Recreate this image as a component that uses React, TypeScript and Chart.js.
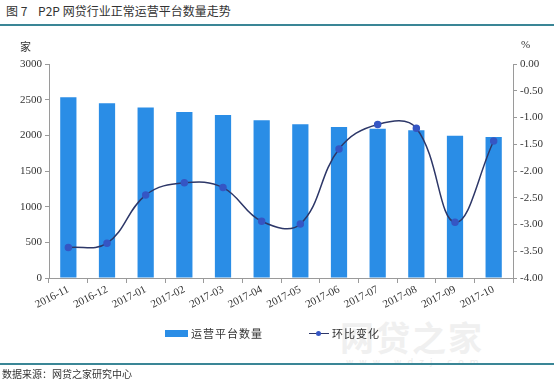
import React, { useEffect, useRef } from "react";
import { Chart, registerables } from "chart.js";

Chart.register(...registerables);

const categories = [
  "2016-11", "2016-12", "2017-01", "2017-02", "2017-03", "2017-04",
  "2017-05", "2017-06", "2017-07", "2017-08", "2017-09", "2017-10",
];
const platformCount = [2535, 2450, 2390, 2327, 2285, 2210, 2155, 2117, 2093, 2070, 1995, 1975];
const momChange = [-3.43, -3.35, -2.45, -2.22, -2.31, -2.94, -2.99, -1.59, -1.13, -1.2, -2.96, -1.44];
const leftRange = [0, 3000, 500];
const rightRange = [-4, 0, 0.5];
const seriesNames = ["运营平台数量", "环比变化"];
const titleText = "图 7    P2P 网贷行业正常运营平台数量走势";
const sourceText = "数据来源：网贷之家研究中心";

const BAR = "#2a8de6";
const LINE = "#2d3768";
const POINT = "#3556c4";
const AXIS = "#9a9a9a";
const TEAL = "#3a8696";
const SERIF = "'Liberation Serif', 'Times New Roman', serif";
const CJK = "'Noto Sans CJK SC', 'Noto Sans', sans-serif";

export default function App() {
  const ref = useRef<HTMLCanvasElement | null>(null);

  useEffect(() => {
    const ctx = ref.current;
    if (!ctx) return;
    const chart = new Chart(ctx, {
      type: "bar",
      data: {
        labels: categories,
        datasets: [
          {
            type: "line",
            label: seriesNames[1],
            data: momChange,
            yAxisID: "y1",
            borderColor: LINE,
            borderWidth: 1.5,
            backgroundColor: POINT,
            pointBackgroundColor: POINT,
            pointBorderColor: POINT,
            pointRadius: 3,
            tension: 0.4,
            order: 0,
          },
          {
            type: "bar",
            label: seriesNames[0],
            data: platformCount,
            yAxisID: "y",
            backgroundColor: BAR,
            categoryPercentage: 1,
            barPercentage: 0.42,
            order: 1,
          },
        ],
      },
      options: {
        responsive: false,
        animation: false,
        layout: { padding: { top: 64, left: 0, right: 0, bottom: 62 } },
        plugins: { legend: { display: false }, tooltip: { enabled: false } },
        scales: {
          x: {
            offset: true,
            grid: {
              offset: true,
              drawOnChartArea: false,
              color: AXIS,
              tickLength: 5,
            },
            border: { color: AXIS },
            ticks: {
              minRotation: 27,
              maxRotation: 27,
              color: "#333",
              padding: 0,
              font: { family: SERIF, size: 11 },
            },
            afterFit: (s: any) => {
              s.height = 42;
            },
          },
          y: {
            position: "left",
            min: leftRange[0],
            max: leftRange[1],
            ticks: {
              stepSize: leftRange[2],
              color: "#333",
              padding: 3,
              font: { family: SERIF, size: 11 },
              callback: (v: any) => String(v),
            },
            grid: { drawOnChartArea: false, color: AXIS, tickLength: 4 },
            border: { color: AXIS },
            afterFit: (s: any) => {
              s.width = 49;
            },
          },
          y1: {
            position: "right",
            min: rightRange[0],
            max: rightRange[1],
            ticks: {
              stepSize: rightRange[2],
              color: "#333",
              padding: 3,
              font: { family: SERIF, size: 11 },
              callback: (v: any) => Number(v).toFixed(2),
            },
            grid: { drawOnChartArea: false, color: AXIS, tickLength: 4 },
            border: { color: AXIS },
            afterFit: (s: any) => {
              s.width = 41;
            },
          },
        },
      },
    });
    return () => chart.destroy();
  }, []);

  return (
    <div style={{ position: "absolute", left: 0, top: 0, width: 554, height: 382, background: "#fff", overflow: "hidden" }}>
      <div style={{ position: "absolute", left: 6, top: 2, fontFamily: CJK, fontSize: 12, color: "#333", whiteSpace: "pre" }}>
        {titleText}
      </div>
      <div style={{ position: "absolute", left: 0, top: 24, width: 554, height: 2, background: TEAL }} />
      <div
        style={{
          position: "absolute", left: 340, top: 312, fontFamily: CJK, fontSize: 34, fontWeight: 700,
          color: "#f0f0f0", letterSpacing: 2, whiteSpace: "nowrap",
        }}
      >
        网贷之家
      </div>
      <div
        style={{
          position: "absolute", left: 346, top: 357, fontFamily: "'DejaVu Sans', sans-serif", fontSize: 9,
          color: "#ececec", letterSpacing: 6, whiteSpace: "nowrap",
        }}
      >
        www.wdzj.com
      </div>
      <canvas ref={ref} width={554} height={382} style={{ position: "absolute", left: 0, top: 0, width: 554, height: 382 }} />
      <div style={{ position: "absolute", left: 20, top: 38, fontFamily: CJK, fontSize: 11, color: "#333" }}>家</div>
      <div style={{ position: "absolute", left: 521, top: 38, fontFamily: SERIF, fontSize: 11, color: "#333" }}>%</div>
      <div style={{ position: "absolute", left: 165, top: 325, display: "flex", alignItems: "center", fontFamily: CJK, fontSize: 11, color: "#333", whiteSpace: "nowrap" }}>
        <span style={{ display: "inline-block", width: 23, height: 7, background: BAR, marginRight: 3 }} />
        <span style={{ letterSpacing: 1 }}>{seriesNames[0]}</span>
        <span style={{ display: "inline-block", width: 46 }} />
        <span style={{ position: "relative", display: "inline-block", width: 20, height: 7, marginRight: 3 }}>
          <span style={{ position: "absolute", left: 0, top: 3, width: 20, height: 1.5, background: LINE }} />
          <span style={{ position: "absolute", left: 7, top: 1, width: 5, height: 5, borderRadius: 3, background: POINT }} />
        </span>
        <span style={{ letterSpacing: 1 }}>{seriesNames[1]}</span>
      </div>
      <div style={{ position: "absolute", left: 0, top: 363, width: 554, height: 2, background: TEAL }} />
      <div style={{ position: "absolute", left: 2, top: 366, fontFamily: CJK, fontSize: 10, color: "#333", whiteSpace: "nowrap" }}>
        {sourceText}
      </div>
    </div>
  );
}
